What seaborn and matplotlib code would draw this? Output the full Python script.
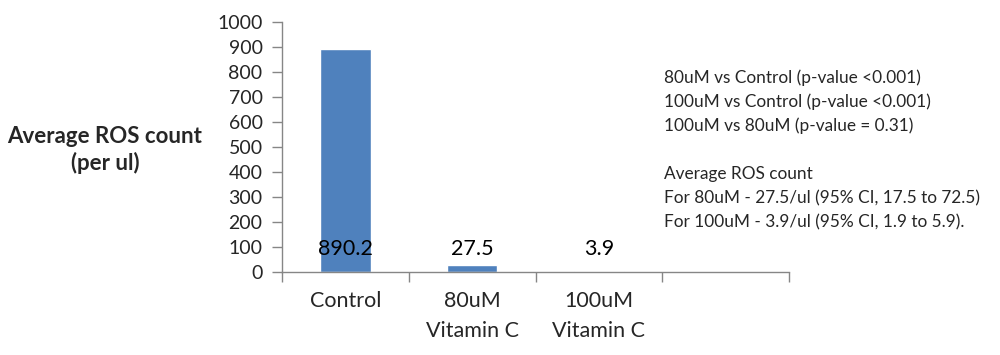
import pandas as pd
import numpy as np
import matplotlib.pyplot as plt
import seaborn as sns

# Chart data
groups = ['Control', '80uM\nVitamin C', '100uM\nVitamin C']
ros_counts = [890.2, 27.5, 3.9]
value_labels = ['890.2', '27.5', '3.9']
y_ticks = [0, 100, 200, 300, 400, 500, 600, 700, 800, 900, 1000]

notes = [
    '80uM vs Control (p-value <0.001)',
    '100uM vs Control (p-value <0.001)',
    '100uM vs 80uM (p-value = 0.31)',
    '',
    'Average ROS count',
    'For 80uM - 27.5/ul (95% CI, 17.5 to 72.5)',
    'For 100uM - 3.9/ul (95% CI, 1.9 to 5.9).',
]

df = pd.DataFrame({'group': groups, 'ros': ros_counts})

sns.set_style('white')
plt.rcParams['font.family'] = ['Lato', 'DejaVu Sans']

fig = plt.figure(figsize=(10, 3.55), dpi=100)
ax = fig.add_axes([0.282, 0.234, 0.507, 0.704])

sns.barplot(data=df, x='group', y='ros', color='#4F81BD', width=0.40,
            saturation=1, ax=ax)

ax.set_xlim(-0.5, 3.5)
ax.set_ylim(0, 1000)
ax.set_yticks(y_ticks)
ax.set_yticklabels([str(t) for t in y_ticks], fontsize=14)
ax.tick_params(axis='y', length=7, width=1, color='#868686', pad=7, left=True)

# category boundaries as tick marks, labels at centres
ax.set_xticks(np.arange(len(groups)))
ax.set_xticklabels(groups, fontsize=15.5, linespacing=1.6)
ax.tick_params(axis='x', length=0, pad=14, bottom=True)
ax.set_xticks(np.arange(-0.5, 4.0, 1.0), minor=True)
ax.tick_params(axis='x', which='minor', length=7, width=1, color='#868686',
               bottom=True, direction='out')

for side in ['top', 'right']:
    ax.spines[side].set_visible(False)
for side in ['left', 'bottom']:
    ax.spines[side].set_color('#868686')
    ax.spines[side].set_linewidth(1)

ax.set_xlabel('')
ax.set_ylabel('')

# value labels drawn just above the baseline
for i, lab in enumerate(value_labels):
    ax.text(i, 90, lab, ha='center', va='center', fontsize=15.5, color='black')

fig.text(0.105, 0.577, 'Average ROS count\n(per ul)', ha='center', va='center',
         fontsize=16, fontweight='bold', linespacing=1.3)

for k, line in enumerate(notes):
    fig.text(0.664, 1 - (78 + 24 * k) / 355, line, ha='left', va='center',
             fontsize=12.4)

fig.savefig('out.png', dpi=100)
